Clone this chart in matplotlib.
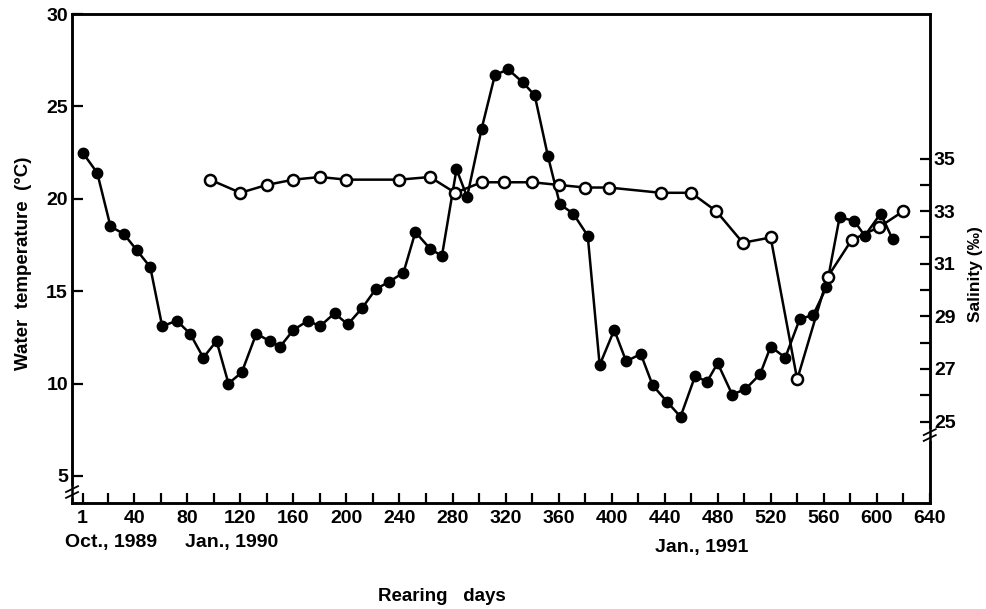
import numpy as np
import matplotlib
matplotlib.use("Agg")
import matplotlib.pyplot as plt

plt.rcParams["font.family"] = ["Liberation Sans", "DejaVu Sans"]
plt.rcParams["font.weight"] = "bold"

# ── Data ──────────────────────────────────────────────
temp_days = [1, 12, 22, 32, 42, 52, 61, 72, 82, 92, 102, 111, 121, 132, 142,
             150, 160, 171, 180, 191, 201, 212, 222, 232, 243, 252, 263, 272,
             283, 291, 302, 312, 322, 333, 342, 352, 361, 371, 382, 391, 402,
             411, 422, 431, 442, 452, 463, 472, 480, 491, 501, 512, 520, 531,
             542, 552, 562, 572, 583, 591, 603, 612]
temp = [22.5, 21.4, 18.5, 18.1, 17.2, 16.3, 13.1, 13.4, 12.7, 11.4, 12.3,
        10.0, 10.6, 12.7, 12.3, 12.0, 12.9, 13.4, 13.1, 13.8, 13.2, 14.1,
        15.1, 15.5, 16.0, 18.2, 17.3, 16.9, 21.6, 20.1, 23.8, 26.7, 27.0,
        26.3, 25.6, 22.3, 19.7, 19.2, 18.0, 11.0, 12.9, 11.2, 11.6, 9.9,
        9.0, 8.2, 10.4, 10.1, 11.1, 9.4, 9.7, 10.5, 12.0, 11.4, 13.5, 13.7,
        15.2, 19.0, 18.8, 18.0, 19.2, 17.8]

sal_days = [97, 120, 140, 160, 180, 200, 240, 263, 282, 302, 319, 340, 360,
            380, 398, 437, 460, 479, 499, 520, 540, 563, 581, 602, 620]
salinity = [34.2, 33.7, 34.0, 34.2, 34.3, 34.2, 34.2, 34.3, 33.7, 34.1, 34.1,
            34.1, 34.0, 33.9, 33.9, 33.7, 33.7, 33.0, 31.8, 32.0, 26.6, 30.5,
            31.9, 32.4, 33.0]

x_major = [1] + list(range(40, 641, 40))
x_minor = list(range(20, 641, 40))
temp_ticks = [5, 10, 15, 20, 25, 30]
sal_ticks = [25, 27, 29, 31, 33, 35]
sal_minor = [26, 28, 30, 32, 34]

# ── Figure ────────────────────────────────────────────
fig = plt.figure(figsize=(9.87, 6.09), dpi=100)
ax = fig.add_axes([0.073, 0.174, 0.869, 0.803])
ax2 = ax.twinx()

ax.plot(temp_days, temp, color="black", lw=1.8, marker="o", ms=7.5,
        mfc="black", mec="black", zorder=3)
ax2.plot(sal_days, salinity, color="black", lw=1.8, marker="o", ms=8,
         mfc="white", mec="black", mew=1.8, zorder=4)

ax.set_xlim(-7, 640)
ax.set_ylim(3.53, 30)
ax2.set_ylim(21.9, 40.5)

ax.set_xticks(x_major)
ax.set_xticklabels([str(v) for v in x_major])
ax.set_xticks(x_minor, minor=True)
ax.set_yticks(temp_ticks)
ax2.set_yticks(sal_ticks)
ax2.set_yticks(sal_minor, minor=True)

ax.tick_params(axis="x", which="major", direction="in", length=7, width=1.6,
               labelsize=14, pad=5)
ax.tick_params(axis="x", which="minor", direction="in", length=7, width=1.6)
ax.tick_params(axis="y", direction="in", length=8, width=1.6, labelsize=14, pad=3)
ax2.tick_params(axis="y", which="major", direction="in", length=7, width=1.6,
                labelsize=14, pad=3)
ax2.tick_params(axis="y", which="minor", direction="in", length=7, width=1.6)

for a in (ax, ax2):
    for sp in a.spines.values():
        sp.set_linewidth(1.8)

ax.set_ylabel("Water  temperature  (°C)", fontsize=13.5, fontweight="bold")
ax.yaxis.set_label_coords(-0.047, 0.49)
ax2.set_ylabel("Salinity (‰)", fontsize=12.5, fontweight="bold")
ax2.yaxis.set_label_coords(1.045, 0.468)

ax.text(272, -0.192, "Rearing   days", transform=ax.get_xaxis_transform(),
        ha="center", va="center", fontsize=13.5, fontweight="bold")
for d, lab, yy in [(22.6, "Oct., 1989", -0.08), (113, "Jan., 1990", -0.08),
                   (468, "Jan., 1991", -0.09)]:
    ax.text(d, yy, lab, transform=ax.get_xaxis_transform(), ha="center",
            va="center", fontsize=14, fontweight="bold")

# axis break marks
for xb, yb in [(0.0, 0.0225), (1.0, 0.139)]:
    ax.plot([xb, xb], [yb - 0.006, yb + 0.006], transform=ax.transAxes,
            color="white", lw=4, clip_on=False, zorder=10)
    for dy in (-0.006, 0.006):
        ax.plot([xb - 0.007, xb + 0.007], [yb + dy - 0.006, yb + dy + 0.006],
                transform=ax.transAxes, color="black", lw=1.3,
                clip_on=False, zorder=11)

fig.savefig("out.png", dpi=100)
